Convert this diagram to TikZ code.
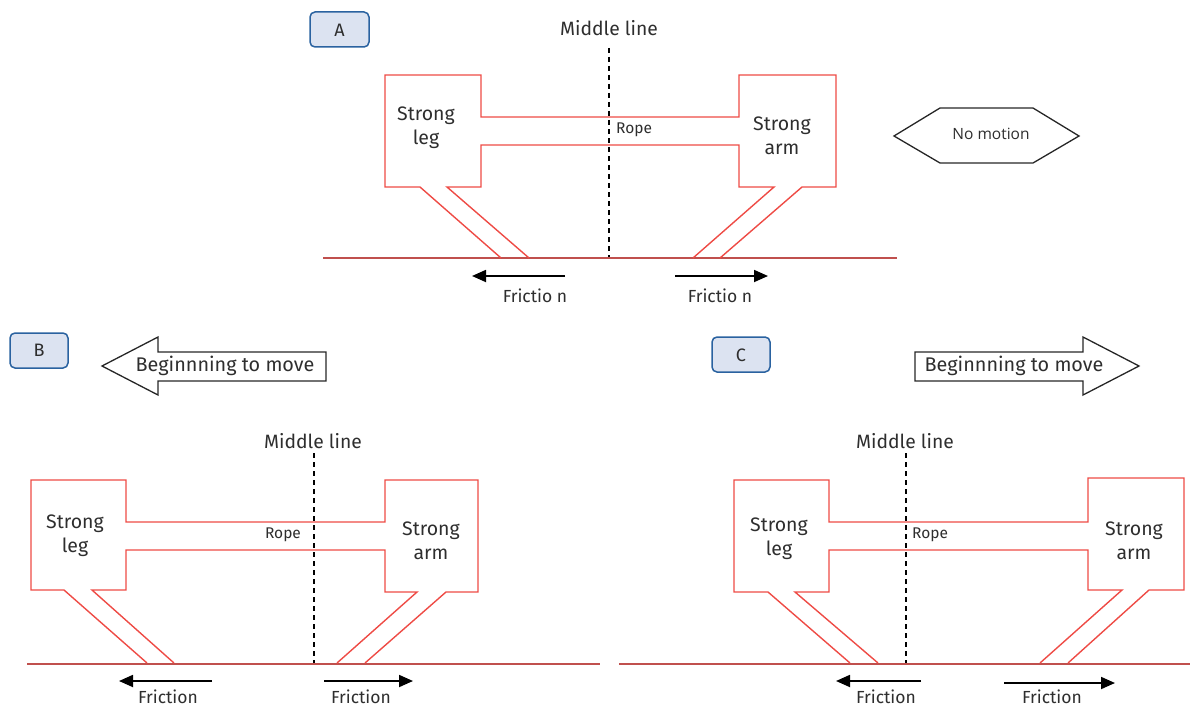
\documentclass[tikz,border=0pt]{standalone}
\usepackage{fontspec}
\setmainfont{Fira Sans}
\newfontfamily\labelfont{Open Sans}
\usetikzlibrary{arrows.meta}
\definecolor{bodyred}{HTML}{EE4B45}
\definecolor{groundred}{HTML}{C0504D}
\definecolor{inkgray}{HTML}{2E2E2E}
\definecolor{tagfill}{HTML}{DCE3F1}
\definecolor{tagedge}{HTML}{2A62A0}
\tikzset{
  body/.style={draw=bodyred, line width=1.4pt, line join=miter},
  ground/.style={draw=groundred, line width=1.4pt},
  midline/.style={draw=black, line width=1.3pt, dash pattern=on 5pt off 4pt},
  friction/.style={draw=black, line width=1.8pt, -{Triangle[length=14pt,width=12pt]}},
  tag/.style={draw=tagedge, fill=tagfill, line width=1.5pt, rounded corners=5pt},
  outline/.style={draw=black!85, line width=1.3pt, line join=miter},
  txt/.style={text=inkgray, inner sep=0pt, align=center},
  bigtxt/.style={txt, font=\fontsize{19.5}{24}\selectfont},
  midtxt/.style={txt, font=\fontsize{19.3}{22}\selectfont},
  frtxt/.style={txt, font=\fontsize{17.5}{20}\selectfont},
  ropetxt/.style={txt, font=\fontsize{15.5}{18}\selectfont},
  tagtxt/.style={txt, font=\fontsize{18}{20}\selectfont},
  movetxt/.style={txt, font=\fontsize{19.8}{23}\selectfont},
}
\begin{document}
\begin{tikzpicture}[x=1pt, y=-1pt]
\useasboundingbox (0,0) rectangle (1190,706);

% ---------------- state A: no motion ----------------
\draw[tag] (310,12) rectangle (369,47);
\node[tagtxt] (tagA) at (339.5,30) {A};
\node[midtxt] (midA) at (609,28) {Middle line};
\coordinate (gA) at (609,258);
\draw[midline] (midA.south |- 0,48) -- (gA);
\draw[ground] (323,258) -- (897,258);
\draw[body] (501,258) -- (420,187) -- (385,187) -- (385,75) -- (481,75) -- (481,117)
  -- (739,117) -- (739,75) -- (836,75) -- (836,187) -- (802,187) -- (720,258);
\draw[body] (693,258) -- (774,187) -- (739,187) -- (739,145) -- (481,145) -- (481,187)
  -- (447,187) -- (529,258);
\node[bigtxt] (legA) at (426,128) {Strong\\leg};
\node[bigtxt] (armA) at (782,136) {Strong\\arm};
\node[ropetxt, anchor=west] (ropeA) at (616,130) {Rope};
\coordinate (fAl0) at (565,276); \coordinate (fAl1) at (472,276);
\coordinate (fAr0) at (675,276); \coordinate (fAr1) at (768,276);
\draw[friction] (fAl0) -- (fAl1);
\draw[friction] (fAr0) -- (fAr1);
\node[frtxt] (frAl) at (535,296) {Frictio n};
\node[frtxt] (frAr) at (720,296) {Frictio n};
\draw[outline] (894,136) -- (940,108) -- (1033,108) -- (1079,136) -- (1033,163) -- (940,163) -- cycle;
\node[txt, font=\labelfont\fontsize{15.5}{18}\selectfont] (still) at (991,134) {No motion};

% ---------------- state B: moving left ----------------
\draw[tag] (10,333) rectangle (68,368);
\node[tagtxt] (tagB) at (39,350) {B};
\draw[outline] (102,366) -- (158,337) -- (158,352) -- (326,352) -- (326,381) -- (158,381) -- (158,395) -- cycle;
\node[movetxt] (moveB) at (225,366) {Beginnning to move};
\node[midtxt] (midB) at (313,441) {Middle line};
\coordinate (gB) at (314,664);
\draw[midline] (314,453) -- (gB);
\draw[ground] (27,664) -- (600,664);
\draw[body] (147,663) -- (64,590) -- (31,590) -- (31,480) -- (126,480) -- (126,522)
  -- (385,522) -- (385,480) -- (478,480) -- (478,592) -- (446,592) -- (365,663);
\draw[body] (337,663) -- (417,592) -- (385,592) -- (385,550) -- (126,550) -- (126,590)
  -- (92,590) -- (174,663);
\node[bigtxt] (legB) at (75,536) {Strong\\leg};
\node[bigtxt] (armB) at (431,541) {Strong\\arm};
\node[ropetxt] (ropeB) at (283,535) {Rope};
\coordinate (fBl0) at (212,681); \coordinate (fBl1) at (119,681);
\coordinate (fBr0) at (324,681); \coordinate (fBr1) at (413,681);
\draw[friction] (fBl0) -- (fBl1);
\draw[friction] (fBr0) -- (fBr1);
\node[frtxt] (frBl) at (168,697) {Friction};
\node[frtxt] (frBr) at (361,697) {Friction};

% ---------------- state C: moving right ----------------
\draw[tag] (712,337) rectangle (770,372);
\node[tagtxt] (tagC) at (741,355) {C};
\draw[outline] (1139,366) -- (1083,337) -- (1083,352) -- (915,352) -- (915,381) -- (1083,381) -- (1083,395) -- cycle;
\node[movetxt] (moveC) at (1014,366) {Beginnning to move};
\node[midtxt] (midC) at (905,441) {Middle line};
\coordinate (gC) at (906,664);
\draw[midline] (906,453) -- (gC);
\draw[ground] (619,664) -- (1190,664);
\draw[body] (850,663) -- (768,592) -- (734,592) -- (734,480) -- (829,480) -- (829,522)
  -- (1088,522) -- (1088,478) -- (1184,478) -- (1184,590) -- (1149,590) -- (1068,663);
\draw[body] (1040,663) -- (1122,590) -- (1088,590) -- (1088,550) -- (829,550) -- (829,592)
  -- (795,592) -- (878,663);
\node[bigtxt] (legC) at (779,539) {Strong\\leg};
\node[bigtxt] (armC) at (1134,541) {Strong\\arm};
\node[ropetxt, anchor=west] (ropeC) at (912,535) {Rope};
\coordinate (fCl0) at (921,681); \coordinate (fCl1) at (836,681);
\coordinate (fCr0) at (1004,683); \coordinate (fCr1) at (1115,683);
\draw[friction] (fCl0) -- (fCl1);
\draw[friction] (fCr0) -- (fCr1);
\node[frtxt] (frCl) at (886,697) {Friction};
\node[frtxt] (frCr) at (1052,697) {Friction};
\end{tikzpicture}
\end{document}
